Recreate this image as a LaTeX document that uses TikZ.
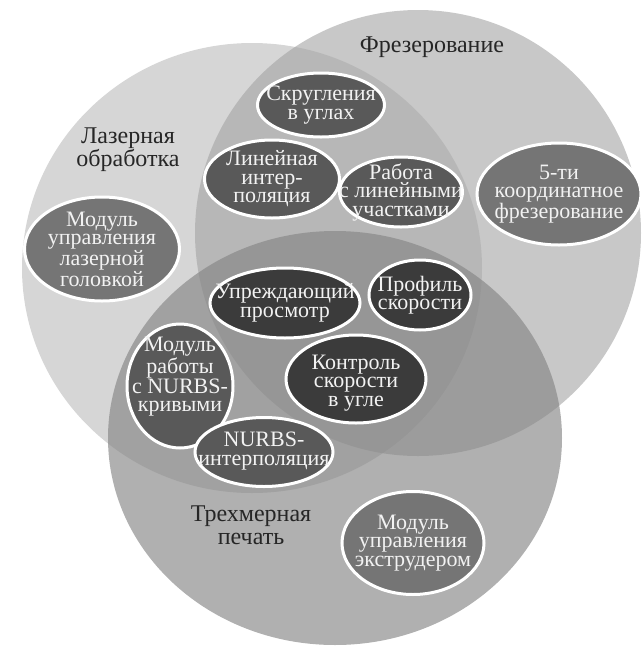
\documentclass[tikz,border=0pt]{standalone}
\usepackage{fontspec}
\setmainfont{Liberation Serif}
\usetikzlibrary{shapes.geometric}

\definecolor{lasergray}{gray}{0.84}
\definecolor{millgray}{gray}{0.64}
\definecolor{printgray}{gray}{0.52}
\definecolor{darkbub}{gray}{0.23}
\definecolor{midbub}{gray}{0.35}
\definecolor{lightbub}{gray}{0.46}

\begin{document}
\begin{tikzpicture}[x=1pt,y=-1pt,
    bubble/.style={ellipse,draw=white,line width=3pt,inner sep=0pt},
    bubtext/.style={text=white!95!black,align=center,inner sep=0pt,font=\fontsize{22}{18.5}\selectfont},
    area/.style={text=black!85,align=center,font=\fontsize{24}{23}\selectfont}]

    \useasboundingbox (0,0) rectangle (643,646);

    % the three areas
    \fill[lasergray]  (252,268) ellipse (230 and 225);
    \fill[millgray, opacity=.6]  (418,233) ellipse (223 and 223);
    \fill[printgray, opacity=.65]  (335,438) ellipse (227 and 207);

    \node[area] (mill) at (432,47) {Фрезерование};
    \node[area] (laser) at (128,150) {Лазерная\\обработка};
    \node[area] (print) at (251,525) {Трехмерная\\печать};

    % laser + milling
    \node[bubble, fill=midbub, minimum width=127, minimum height=64] (round) at (321,105) {};
    \node[bubtext] (roundtext) at (round) {Скругления\\в углах};
    \node[bubble, fill=midbub, minimum width=135, minimum height=78] (linint) at (272,179) {};
    \node[bubtext] (lininttext) at (linint) {Линейная\\интер-\\поляция};
    \node[bubble, fill=midbub, minimum width=123, minimum height=70] (linseg) at (401,192) {};
    \node[bubtext] (linsegtext) at (linseg) {Работа\\с линейными\\участками};

    % one area only
    \node[bubble, fill=lightbub, minimum width=164, minimum height=102] (fiveax) at (559,194) {};
    \node[bubtext] (fiveaxtext) at (fiveax) {5-ти\\координатное\\фрезерование};
    \node[bubble, fill=lightbub, minimum width=155, minimum height=104] (laserhead) at (102,249) {};
    \node[bubtext] (laserheadtext) at (laserhead) {Модуль\\управления\\лазерной\\головкой};
    \node[bubble, fill=lightbub, minimum width=142, minimum height=103] (extruder) at (413,543) {};
    \node[bubtext] (extrudertext) at (extruder) {Модуль\\управления\\экструдером};

    % all three
    \node[bubble, fill=darkbub, minimum width=150, minimum height=70] (lookahead) at (285,303) {};
    \node[bubtext] (lookaheadtext) at (lookahead) {Упреждающий\\просмотр};
    \node[bubble, fill=darkbub, minimum width=102, minimum height=70] (profile) at (420,295) {};
    \node[bubtext] (profiletext) at (profile) {Профиль\\скорости};
    \node[bubble, fill=darkbub, minimum width=140, minimum height=88] (corner) at (356,379) {};
    \node[bubtext] (cornertext) at ([yshift=-4]corner.center) {Контроль\\скорости\\в угле};

    % laser + printing
    \node[bubble, fill=midbub, minimum width=106, minimum height=124] (nurbsmod) at (180,386) {};
    \node[bubtext] (nurbsmodtext) at (180,377) {Модуль\\работы\\с NURBS-\\кривыми};
    \node[bubble, fill=midbub, minimum width=138, minimum height=69] (nurbsint) at (264,452) {};
    \node[bubtext] (nurbsinttext) at ([yshift=1]nurbsint.center) {NURBS-\\интерполяция};

\end{tikzpicture}
\end{document}
